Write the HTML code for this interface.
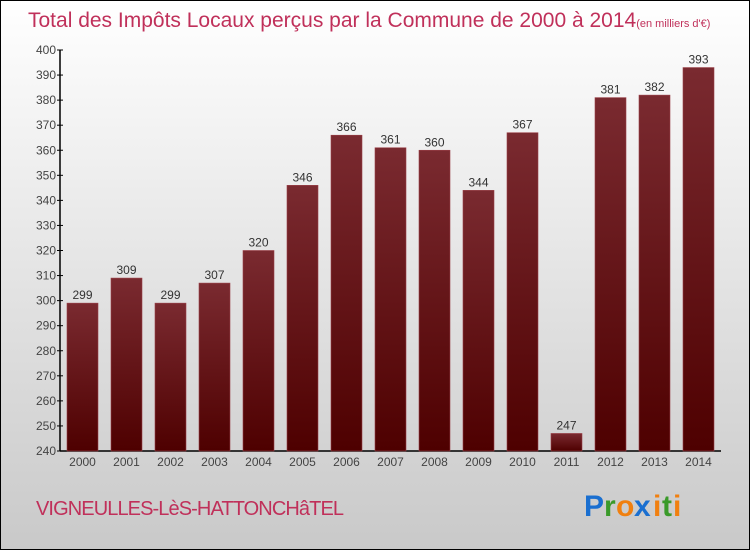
<!DOCTYPE html>
<html><head><meta charset="utf-8"><style>
html,body{margin:0;padding:0}
body{width:750px;height:550px;overflow:hidden;font-family:"Liberation Sans",sans-serif}
</style></head><body>
<svg id="chart" width="750" height="550" xmlns="http://www.w3.org/2000/svg">
<defs>
<linearGradient id="bg" x1="0" y1="0" x2="0" y2="1"><stop offset="0" stop-color="#ffffff"/><stop offset="1" stop-color="#c9c9c9"/></linearGradient>
<linearGradient id="bar" x1="0" y1="0" x2="0" y2="1"><stop offset="0" stop-color="#7a2a30"/><stop offset="1" stop-color="#4e0000"/></linearGradient>
</defs>
<rect x="0.5" y="0.5" width="749" height="549" fill="url(#bg)" stroke="#000"/>
<text x="28" y="27" font-size="21" fill="#c0305a">Total des Impôts Locaux perçus par la Commune de 2000 à 2014<tspan font-size="11">(en milliers d'€)</tspan></text>
<g id="plot"></g>
<text x="36" y="515" font-size="20" fill="#c0305a" textLength="308">VIGNEULLES-LèS-HATTONCHâTEL</text>
<g font-size="30" font-weight="bold" font-family="'Liberation Sans',sans-serif">
<text x="584" y="516" fill="#1a6fd0">P</text><text x="604" y="516" fill="#3a9a2a">r</text><text x="616" y="516" fill="#f08010">o</text><text x="634" y="516" fill="#1a6fd0">x</text><text x="653" y="516" fill="#f08010">i</text><text x="662" y="516" fill="#3a9a2a">t</text><text x="673" y="516" fill="#f08010">i</text>
</g>
</svg>
<script>
const years=["2000","2001","2002","2003","2004","2005","2006","2007","2008","2009","2010","2011","2012","2013","2014"];
const values=[299,309,299,307,320,346,366,361,360,344,367,247,381,382,393];
const ticks=[240,250,260,270,280,290,300,310,320,330,340,350,360,370,380,390,400];
const NS="http://www.w3.org/2000/svg";
const g=document.getElementById('plot');
const y0=451,y1=50,vmin=240,vmax=400;
const yS=v=>y0-(v-vmin)*(y0-y1)/(vmax-vmin);
const xS=i=>67+i*44;
function mk(t,a){const e=document.createElementNS(NS,t);for(const k in a)e.setAttribute(k,a[k]);g.appendChild(e);return e;}
let ax=mk('line',{x1:60,y1:y1,x2:60,y2:y0,stroke:'#000','stroke-width':1.5});


let bx=mk('line',{x1:60,y1:y0,x2:721,y2:y0,stroke:'#000','stroke-width':1.5});


ticks.forEach(t=>{
 const y=yS(t);
 const l=mk('line',{x1:57,y1:y,x2:63,y2:y,stroke:'#000'});
 
 
 const tx=mk('text',{x:56,y:y+4,'font-size':12,fill:'#444','text-anchor':'end'});
 tx.textContent=t;
 
 
});
values.forEach((v,i)=>{
 const x=xS(i),y=yS(v);
 const r=mk('rect',{x:x,y:y,width:31,height:y0-y,fill:'url(#bar)',stroke:'#9a4048','stroke-width':0.6});
 
 
 const t=mk('text',{x:x+15.5,y:y-4,'font-size':12,fill:'#333','text-anchor':'middle'});
 t.textContent=v;
 
 
 const xl=mk('text',{x:x+15.5,y:y0+15,'font-size':12,fill:'#444','text-anchor':'middle'});
 xl.textContent=years[i];
 
 
});
</script>
</body></html>
